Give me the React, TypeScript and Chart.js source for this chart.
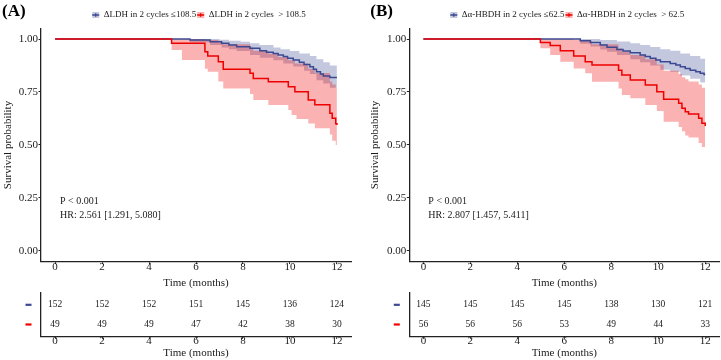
import React, { useEffect, useRef } from 'react';
import { Chart, registerables } from 'chart.js';

Chart.register(...registerables);

const FONT = "'Liberation Serif', 'Times New Roman', serif";
const BLUE = '#3B4992';
const RED = '#EE0000';
const BLUE_BAND = 'rgba(59,73,146,0.3)';
const RED_BAND = 'rgba(238,0,0,0.3)';
const TEXT = '#1a1a1a';

type Pt = [number, number];

// ---------- shared ticks ----------
const timeTicks = [0, 2, 4, 6, 8, 10, 12];
const survTicks = [0, 0.25, 0.5, 0.75, 1];

// ---------- Panel A : ΔLDH ----------
const lineBlueA: Pt[] = [[0, 1], [5.74, 0.995], [6.6, 0.987], [7.09, 0.98], [7.4, 0.972], [7.73, 0.964], [8.3, 0.956], [8.72, 0.945], [9.0, 0.938], [9.29, 0.932], [9.5, 0.925], [9.72, 0.917], [9.9, 0.909], [10.14, 0.901], [10.4, 0.89], [10.6, 0.88], [10.85, 0.869], [11.0, 0.857], [11.13, 0.846], [11.3, 0.835], [11.42, 0.825], [11.7, 0.818], [12, 0.818]];
const upperBlueA: Pt[] = [[0, 1], [5.74, 1.0], [7.0, 0.997], [7.4, 0.992], [7.9, 0.987], [8.3, 0.98], [8.7, 0.972], [9.3, 0.96], [9.6, 0.952], [10.0, 0.943], [10.4, 0.932], [10.85, 0.92], [11.13, 0.905], [11.42, 0.89], [11.7, 0.875], [12, 0.873]];
const lowerBlueA: Pt[] = [[0, 1], [5.74, 0.985], [6.6, 0.972], [7.09, 0.96], [7.4, 0.952], [7.73, 0.943], [8.3, 0.925], [8.72, 0.912], [9.29, 0.9], [9.72, 0.885], [10.14, 0.87], [10.6, 0.85], [10.85, 0.835], [11.13, 0.805], [11.42, 0.79], [11.7, 0.77], [12, 0.76]];
const lineRedA: Pt[] = [[0, 1], [4.96, 0.98], [6.38, 0.94], [6.5, 0.92], [6.95, 0.893], [7.16, 0.857], [8.3, 0.838], [8.44, 0.814], [9.08, 0.798], [9.93, 0.775], [10.21, 0.751], [10.78, 0.712], [11.06, 0.69], [11.7, 0.65], [11.8, 0.626], [11.95, 0.6], [12, 0.594]];
const upperRedA: Pt[] = [[0, 1], [4.96, 1.0], [6.38, 0.995], [6.95, 0.985], [7.16, 0.975], [8.3, 0.96], [8.44, 0.945], [9.08, 0.93], [9.5, 0.915], [9.93, 0.9], [10.21, 0.885], [10.78, 0.86], [11.06, 0.84], [11.7, 0.8], [11.8, 0.785], [11.95, 0.77], [12, 0.77]];
const lowerRedA: Pt[] = [[0, 1], [4.96, 0.948], [5.4, 0.901], [6.38, 0.86], [6.5, 0.846], [6.95, 0.8], [7.16, 0.767], [8.3, 0.74], [8.44, 0.712], [9.08, 0.689], [9.93, 0.665], [10.07, 0.642], [10.28, 0.623], [10.78, 0.602], [11.06, 0.579], [11.7, 0.55], [11.8, 0.52], [11.95, 0.5], [12, 0.49]];
const riskBlueA = [152, 152, 152, 151, 145, 136, 124];
const riskRedA = [49, 49, 49, 47, 42, 38, 30];

// ---------- Panel B : Δα-HBDH ----------
const lineBlueB: Pt[] = [[0, 1], [6.68, 0.992], [7.11, 0.983], [7.53, 0.972], [7.82, 0.961], [8.24, 0.951], [8.5, 0.943], [8.81, 0.935], [9.23, 0.925], [9.45, 0.917], [9.66, 0.909], [9.9, 0.901], [10.09, 0.893], [10.51, 0.885], [10.75, 0.877], [10.94, 0.869], [11.15, 0.861], [11.36, 0.853], [11.6, 0.845], [11.79, 0.838], [11.95, 0.833], [12, 0.833]];
const upperBlueB: Pt[] = [[0, 1], [6.68, 1.0], [7.53, 0.995], [8.24, 0.988], [8.81, 0.98], [9.23, 0.972], [9.66, 0.962], [10.09, 0.952], [10.51, 0.945], [10.94, 0.932], [11.36, 0.92], [11.79, 0.907], [12, 0.901]];
const lowerBlueB: Pt[] = [[0, 1], [6.68, 0.978], [7.11, 0.965], [7.53, 0.95], [7.82, 0.94], [8.24, 0.925], [8.81, 0.905], [9.23, 0.89], [9.66, 0.875], [10.09, 0.855], [10.51, 0.845], [10.94, 0.828], [11.36, 0.812], [11.79, 0.795], [12, 0.78]];
const lineRedB: Pt[] = [[0, 1], [4.98, 0.983], [5.4, 0.969], [5.83, 0.945], [6.4, 0.92], [6.89, 0.893], [7.18, 0.877], [8.31, 0.853], [8.45, 0.83], [8.81, 0.807], [9.45, 0.783], [9.94, 0.751], [10.23, 0.716], [10.87, 0.697], [11.01, 0.673], [11.15, 0.657], [11.29, 0.646], [11.72, 0.626], [11.86, 0.603], [12, 0.59]];
const upperRedB: Pt[] = [[0, 1], [4.98, 1.0], [6.4, 0.995], [6.89, 0.99], [7.18, 0.975], [8.31, 0.955], [8.45, 0.94], [8.81, 0.925], [9.45, 0.905], [9.94, 0.88], [10.23, 0.85], [10.87, 0.835], [11.01, 0.82], [11.15, 0.81], [11.29, 0.8], [11.72, 0.785], [11.86, 0.77], [12, 0.765]];
const lowerRedB: Pt[] = [[0, 1], [4.98, 0.956], [5.4, 0.925], [5.83, 0.893], [6.4, 0.861], [6.89, 0.838], [7.18, 0.798], [8.31, 0.767], [8.45, 0.736], [8.81, 0.72], [9.45, 0.689], [9.94, 0.66], [10.23, 0.61], [10.87, 0.585], [11.01, 0.565], [11.15, 0.545], [11.29, 0.535], [11.72, 0.51], [11.86, 0.49], [12, 0.476]];
const riskBlueB = [145, 145, 145, 145, 138, 130, 121];
const riskRedB = [56, 56, 56, 53, 49, 44, 33];

// ---------- text ----------
const legendA = ['\u0394LDH in 2 cycles \u2264108.5', '\u0394LDH in 2 cycles  > 108.5'];
const legendB = ['\u0394\u03b1-HBDH in 2 cycles \u226462.5', '\u0394\u03b1-HBDH in 2 cycles  > 62.5'];
const statsA = ['P < 0.001', 'HR: 2.561 [1.291, 5.080]'];
const statsB = ['P < 0.001', 'HR: 2.807 [1.457, 5.411]'];

const X_MIN = -0.6;
const X_MAX = 12.6;

const toXY = (a: Pt[]) => a.map(([x, y]) => ({ x, y }));

interface PanelSpec {
  letter: string;
  legend: string[];
  stats: string[];
  yAxisWidth: number;
  yTitlePad: number;
  padRight: number;
  blue: { line: Pt[]; upper: Pt[]; lower: Pt[]; risk: number[] };
  red: { line: Pt[]; upper: Pt[]; lower: Pt[]; risk: number[] };
}

const panelA: PanelSpec = {
  letter: '(A)', legend: legendA, stats: statsA, yAxisWidth: 41, yTitlePad: 1.4, padRight: 9,
  blue: { line: lineBlueA, upper: upperBlueA, lower: lowerBlueA, risk: riskBlueA },
  red: { line: lineRedA, upper: upperRedA, lower: lowerRedA, risk: riskRedA },
};
const panelB: PanelSpec = {
  letter: '(B)', legend: legendB, stats: statsB, yAxisWidth: 49.3, yTitlePad: 8.4, padRight: 1.7,
  blue: { line: lineBlueB, upper: upperBlueB, lower: lowerBlueB, risk: riskBlueB },
  red: { line: lineRedB, upper: upperRedB, lower: lowerRedB, risk: riskRedB },
};

Chart.defaults.font.family = FONT;
Chart.defaults.color = TEXT;

function drawKey(ctx: CanvasRenderingContext2D, x: number, y: number, w: number, h: number, line: string, band: string) {
  ctx.fillStyle = band;
  ctx.fillRect(x, y - h / 2, w, h);
  ctx.strokeStyle = line;
  ctx.lineWidth = 1.3;
  ctx.beginPath();
  ctx.moveTo(x, y);
  ctx.lineTo(x + w, y);
  ctx.moveTo(x + w / 2, y - 1.8);
  ctx.lineTo(x + w / 2, y + 1.8);
  ctx.stroke();
}

function kmDecor(spec: PanelSpec) {
  return {
    id: 'kmDecor',
    afterDraw(chart: any) {
      const { ctx, chartArea, scales } = chart;
      ctx.save();
      ctx.textBaseline = 'middle';
      ctx.textAlign = 'left';
      ctx.fillStyle = '#000';
      ctx.font = `bold 17px ${FONT}`;
      ctx.fillText(spec.letter, chartArea.left - 39, 12);

      ctx.font = `9px ${FONT}`;
      const w1 = ctx.measureText(spec.legend[0]).width;
      const w2 = ctx.measureText(spec.legend[1]).width;
      const kw = 7, kh = 6, g = 4.5;
      const total = kw + g + w1 + 1 + kw + g + w2;
      let x = (chartArea.left + chartArea.right) / 2 + 3 - total / 2;
      const ly = 15;
      drawKey(ctx, x, ly, kw, kh, BLUE, BLUE_BAND);
      x += kw + g;
      ctx.fillStyle = TEXT;
      ctx.fillText(spec.legend[0], x, ly);
      x += w1 + 1;
      drawKey(ctx, x, ly, kw, kh, RED, RED_BAND);
      x += kw + g;
      ctx.fillStyle = TEXT;
      ctx.fillText(spec.legend[1], x, ly);

      ctx.font = `10px ${FONT}`;
      const ax = scales.x.getPixelForValue(0.21);
      ctx.fillText(spec.stats[0], ax, scales.y.getPixelForValue(0.233));
      ctx.fillText(spec.stats[1], ax, scales.y.getPixelForValue(0.17));
      ctx.restore();
    },
  };
}

function riskDecor(spec: PanelSpec) {
  return {
    id: 'riskDecor',
    afterDraw(chart: any) {
      const { ctx, chartArea, scales } = chart;
      ctx.save();
      ctx.textBaseline = 'middle';
      ctx.textAlign = 'center';
      ctx.font = `9.5px ${FONT}`;
      ctx.fillStyle = TEXT;
      const rows = [
        { vals: spec.blue.risk, y: 2, color: BLUE },
        { vals: spec.red.risk, y: 1, color: RED },
      ];
      rows.forEach((r) => {
        const py = scales.y.getPixelForValue(r.y);
        r.vals.forEach((v, i) => {
          ctx.fillText(String(v), scales.x.getPixelForValue(timeTicks[i]), py);
        });
        ctx.strokeStyle = r.color;
        ctx.lineWidth = 2.2;
        ctx.beginPath();
        ctx.moveTo(chartArea.left - 15.5, py);
        ctx.lineTo(chartArea.left - 9.5, py);
        ctx.stroke();
      });
      ctx.restore();
    },
  };
}

const tickFont = { family: FONT, size: 11, lineHeight: 1 };
const titleFont = { family: FONT, size: 11, lineHeight: 1.2 };
const gridOpts = { drawOnChartArea: false, drawTicks: true, tickLength: 2.5, color: '#222', lineWidth: 1 };
const borderOpts = { display: true, color: '#222', width: 1.3 };

function xScale(height: number, titlePadBottom: number, tickPad: number) {
  return {
    type: 'linear',
    min: X_MIN,
    max: X_MAX,
    afterBuildTicks: (s: any) => { s.ticks = timeTicks.map((v) => ({ value: v })); },
    afterFit: (s: any) => { s.height = height; },
    ticks: { font: tickFont, color: TEXT, padding: tickPad, maxRotation: 0 },
    grid: gridOpts,
    border: borderOpts,
    title: { display: true, text: 'Time (months)', font: titleFont, color: TEXT, padding: { top: 0, bottom: titlePadBottom } },
  };
}

function kmConfig(spec: PanelSpec): any {
  const band = (data: Pt[], color: string, fill: any) => ({
    data: toXY(data), stepped: true, borderColor: 'rgba(0,0,0,0)', borderWidth: 0,
    backgroundColor: color, pointRadius: 0, fill,
  });
  return {
    type: 'line',
    data: {
      datasets: [
        { data: toXY(spec.red.line), stepped: true, borderColor: RED, borderWidth: 1.5, pointRadius: 0, fill: false },
        { data: toXY(spec.blue.line), stepped: true, borderColor: BLUE, borderWidth: 1.5, pointRadius: 0, fill: false },
        band(spec.red.upper, RED_BAND, 3),
        band(spec.red.lower, 'rgba(0,0,0,0)', false),
        band(spec.blue.upper, BLUE_BAND, 5),
        band(spec.blue.lower, 'rgba(0,0,0,0)', false),
      ],
    },
    options: {
      animation: false,
      responsive: false,
      events: [],
      layout: { padding: { left: 0, right: spec.padRight, top: 28.4, bottom: 0 } },
      plugins: { legend: { display: false }, tooltip: { enabled: false }, title: { display: false } },
      scales: {
        x: xScale(30.4, 2.7, -2.2),
        y: {
          type: 'linear',
          min: -0.05,
          max: 1.05,
          afterBuildTicks: (s: any) => { s.ticks = survTicks.map((v) => ({ value: v })); },
          afterFit: (s: any) => { s.width = spec.yAxisWidth; },
          ticks: { font: tickFont, color: TEXT, padding: 0.5, callback: (v: any) => Number(v).toFixed(2) },
          grid: gridOpts,
          border: borderOpts,
          title: { display: true, text: 'Survival probability', font: titleFont, color: TEXT, padding: { top: spec.yTitlePad, bottom: 0 } },
        },
      },
    },
    plugins: [kmDecor(spec)],
  };
}

function riskConfig(spec: PanelSpec): any {
  return {
    type: 'scatter',
    data: {
      datasets: [
        { data: timeTicks.map((t) => ({ x: t, y: 2 })), pointRadius: 0 },
        { data: timeTicks.map((t) => ({ x: t, y: 1 })), pointRadius: 0 },
      ],
    },
    options: {
      animation: false,
      responsive: false,
      events: [],
      layout: { padding: { left: 0, right: spec.padRight, top: 3, bottom: 0 } },
      plugins: { legend: { display: false }, tooltip: { enabled: false } },
      scales: {
        x: xScale(23.7, 0.7, -3),
        y: {
          type: 'linear',
          min: 0.4,
          max: 2.6,
          afterFit: (s: any) => { s.width = spec.yAxisWidth; },
          ticks: { display: false },
          grid: { drawOnChartArea: false, drawTicks: false },
          border: borderOpts,
        },
      },
    },
    plugins: [riskDecor(spec)],
  };
}

function ChartCanvas({ config, left, top, width, height }: { config: any; left: number; top: number; width: number; height: number }) {
  const ref = useRef<HTMLCanvasElement | null>(null);
  useEffect(() => {
    if (!ref.current) return;
    const chart = new Chart(ref.current, config);
    return () => chart.destroy();
  }, [config]);
  return (
    <canvas
      ref={ref}
      width={width}
      height={height}
      style={{ position: 'absolute', left, top, width, height, display: 'block' }}
    />
  );
}

const kmA = kmConfig(panelA);
const kmB = kmConfig(panelB);
const rtA = riskConfig(panelA);
const rtB = riskConfig(panelB);

export default function App() {
  return (
    <div style={{ position: 'absolute', left: 0, top: 0, width: 721, height: 360, background: '#fff', overflow: 'hidden' }}>
      <ChartCanvas config={kmA} left={0} top={0} width={360} height={292} />
      <ChartCanvas config={kmB} left={360} top={0} width={361} height={292} />
      <ChartCanvas config={rtA} left={0} top={290} width={360} height={70} />
      <ChartCanvas config={rtB} left={360} top={290} width={361} height={70} />
    </div>
  );
}
